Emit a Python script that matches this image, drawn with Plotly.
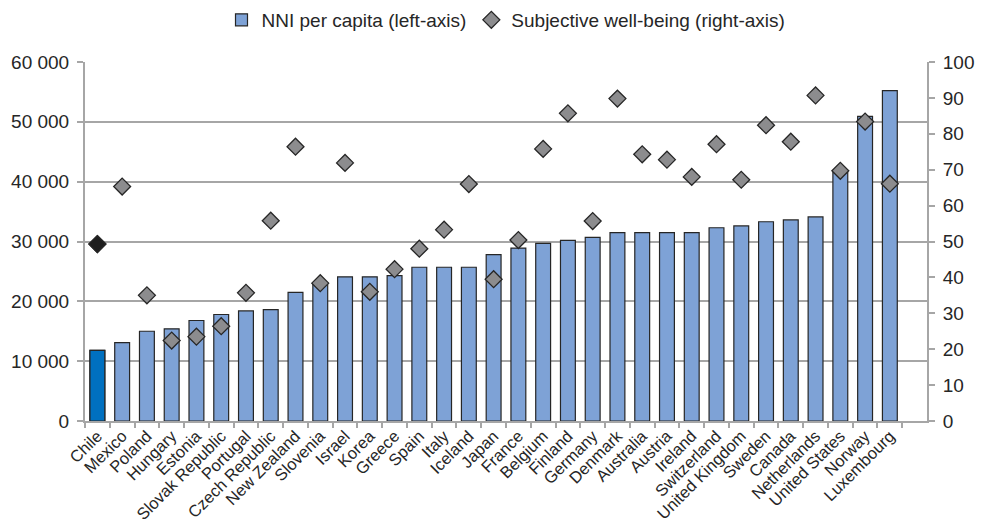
import plotly.graph_objects as go
from plotly.subplots import make_subplots

# OECD countries, ordered by net national income per capita
countries = [
    "Chile", "Mexico", "Poland", "Hungary", "Estonia", "Slovak Republic",
    "Portugal", "Czech Republic", "New Zealand", "Slovenia", "Israel", "Korea",
    "Greece", "Spain", "Italy", "Iceland", "Japan", "France", "Belgium",
    "Finland", "Germany", "Denmark", "Australia", "Austria", "Ireland",
    "Switzerland", "United Kingdom", "Sweden", "Canada", "Netherlands",
    "United States", "Norway", "Luxembourg",
]

# NNI per capita (left axis)
nni_per_capita = [
    11800, 13100, 15000, 15400, 16800, 17800, 18400, 18600, 21500, 23000,
    24100, 24100, 24300, 25700, 25700, 25700, 27800, 28900, 29700, 30200,
    30700, 31500, 31500, 31500, 31500, 32300, 32600, 33300, 33600, 34100,
    41500, 50900, 55200,
]

# Subjective well-being (right axis)
well_being = [
    49.3, 65.3, 35.0, 22.4, 23.5, 26.4, 35.7, 55.8, 76.4, 38.4,
    71.9, 36.0, 42.3, 48.0, 53.3, 66.0, 39.5, 50.4, 75.8, 85.7,
    55.7, 89.8, 74.3, 72.8, 68.0, 77.1, 67.2, 82.4, 77.8, 90.7,
    69.7, 83.4, 66.1,
]

left_ticks = [0, 10000, 20000, 30000, 40000, 50000, 60000]
right_ticks = [0, 10, 20, 30, 40, 50, 60, 70, 80, 90, 100]

HIGHLIGHT = "Chile"
BAR_FILL = "#7EA2D6"
BAR_HIGHLIGHT = "#0070C0"
DOT_FILL = "#8C8C8E"
DOT_HIGHLIGHT = "#1E1E1E"
OUTLINE = "#262626"
AXIS_GREY = "#A6A6A6"
TEXT = "#262626"
FONT = "Liberation Sans, Arial, sans-serif"
FS = 19
FS_CAT = 16.5

hi = countries.index(HIGHLIGHT)

fig = make_subplots(specs=[[{"secondary_y": True}]])

# all countries in the standard style (these carry the legend entries)
fig.add_trace(
    go.Bar(
        x=countries,
        y=nni_per_capita,
        name="NNI per capita (left-axis)",
        marker=dict(color=BAR_FILL, line=dict(color=OUTLINE, width=1.2)),
    ),
    secondary_y=False,
)
# highlighted country drawn on top
fig.add_trace(
    go.Bar(
        x=[countries[hi]],
        y=[nni_per_capita[hi]],
        showlegend=False,
        marker=dict(color=BAR_HIGHLIGHT, line=dict(color=OUTLINE, width=1.2)),
    ),
    secondary_y=False,
)

fig.add_trace(
    go.Scatter(
        x=countries,
        y=well_being,
        mode="markers",
        name="Subjective well-being (right-axis)",
        marker=dict(
            symbol="diamond",
            size=13,
            color=DOT_FILL,
            line=dict(color=OUTLINE, width=1.3),
        ),
    ),
    secondary_y=True,
)
fig.add_trace(
    go.Scatter(
        x=[countries[hi]],
        y=[well_being[hi]],
        mode="markers",
        showlegend=False,
        marker=dict(
            symbol="diamond",
            size=13,
            color=DOT_HIGHLIGHT,
            line=dict(color=OUTLINE, width=1.3),
        ),
    ),
    secondary_y=True,
)

fig.update_layout(
    width=981,
    height=526,
    margin=dict(l=85, r=54, t=62, b=105, autoexpand=False),
    paper_bgcolor="white",
    plot_bgcolor="white",
    font=dict(family=FONT, size=FS, color=TEXT),
    separators=". ",
    barmode="overlay",
    bargap=0.4,
    showlegend=True,
    legend=dict(
        orientation="h",
        x=0.5,
        xanchor="center",
        y=1.117,
        yanchor="middle",
        font=dict(size=FS, color=TEXT),
        itemwidth=30,
        tracegroupgap=0,
    ),
)

fig.update_xaxes(
    type="category",
    categoryorder="array",
    categoryarray=countries,
    domain=[0, 1],
    range=[-0.5, len(countries) + 0.5],
    tickangle=-45,
    tickfont=dict(size=FS_CAT, color=TEXT),
    showline=True,
    linecolor=AXIS_GREY,
    linewidth=2,
    ticks="outside",
    tickson="boundaries",
    ticklen=5,
    tickcolor=AXIS_GREY,
    tickwidth=1.5,
    ticklabelstandoff=-3,
    showgrid=False,
    automargin=False,
)

fig.update_yaxes(
    range=[0, 60000],
    tickvals=left_ticks,
    tickformat=",d",
    tickfont=dict(size=FS, color=TEXT),
    showline=True,
    linecolor=AXIS_GREY,
    linewidth=2,
    ticks="outside",
    ticklen=6,
    tickcolor=AXIS_GREY,
    tickwidth=1.5,
    ticklabelstandoff=4,
    showgrid=True,
    gridcolor=AXIS_GREY,
    gridwidth=1.5,
    zeroline=False,
    automargin=False,
    secondary_y=False,
)

fig.update_yaxes(
    range=[0, 100],
    tickvals=right_ticks,
    tickfont=dict(size=FS, color=TEXT),
    showline=True,
    linecolor=AXIS_GREY,
    linewidth=2,
    ticks="outside",
    ticklen=6,
    tickcolor=AXIS_GREY,
    tickwidth=1.5,
    ticklabelstandoff=4,
    showgrid=False,
    zeroline=False,
    automargin=False,
    secondary_y=True,
)

fig.write_html("out.html")
